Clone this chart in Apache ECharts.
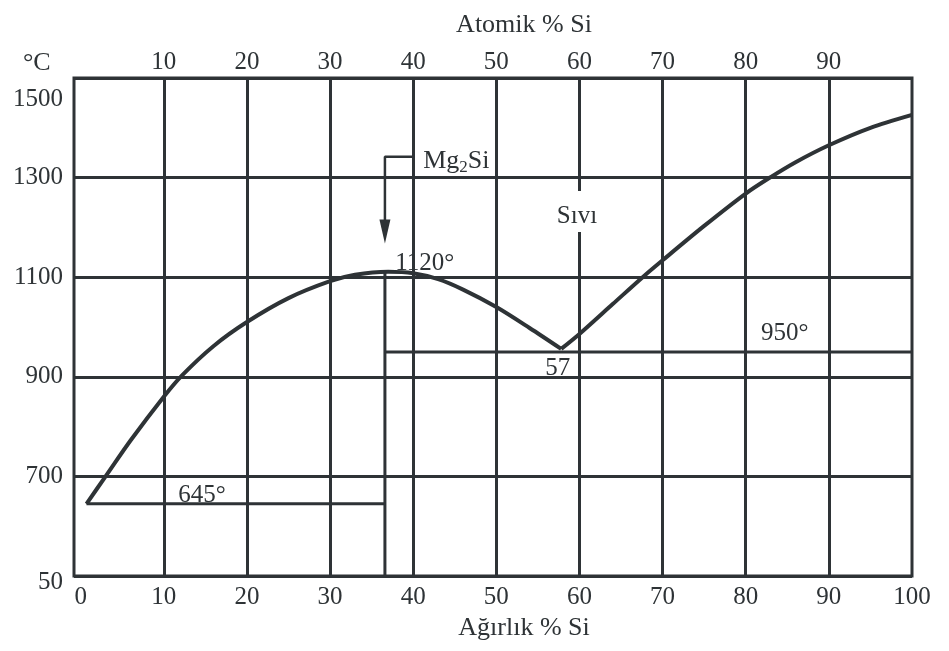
<!DOCTYPE html>
<html>
<head>
<meta charset="utf-8">
<script src="https://cdn.jsdelivr.net/npm/echarts@6/dist/echarts.min.js"></script>
<style>
html, body { margin: 0; padding: 0; background: #fff; }
#diagram { width: 949px; height: 651px; }
</style>
</head>
<body>
<div id="diagram"></div>
<script>
// Mg - Si faz diyagramı
var weightLabels = [0, 10, 20, 30, 40, 50, 60, 70, 80, 90, 100];
var gridSteps = [10, 20, 30, 40, 50, 60, 70, 80, 90];
var atomicLabels = [10, 20, 30, 40, 50, 60, 70, 80, 90];

// likidus, Mg tarafı (0.7 -> ötektik)
var liqMgW = [0.7, 3, 6, 10, 12.2, 16, 20, 25, 30, 33, 37, 40, 43, 46, 50, 54, 57.8];
var liqMgT = [645, 700, 772, 860, 903, 962, 1010, 1058, 1092, 1105, 1111, 1108, 1096, 1075, 1040, 998, 956];
// likidus, Si tarafı
var liqSiW = [57.8, 60, 64, 67.6, 70, 75, 80, 83, 86, 90, 95, 100];
var liqSiT = [956, 986, 1046, 1100, 1134, 1203, 1268, 1301, 1331, 1365, 1400, 1426];

var eutecticMg = [[0.7, 645], [36.6, 645]];
var eutecticSi = [[36.6, 950], [100, 950]];
var mg2siLine = [[36.6, 500], [36.6, 1111]];
var arrowLine = [[40, 1342], [36.6, 1342], [36.6, 1192]];
var arrowHead = [[36.6, 1192]];

var noteText = ['1120°', '645°', '57', '950°', 'Sıvı', '{a|Mg}{s|2}{a|Si}'];
var noteW = [41.4, 14.6, 57.4, 84.7, 59.7, 41.2];
var noteT = [1128, 662, 916, 988, 1232, 1332];
var noteAlign = ['center', 'center', 'center', 'center', 'center', 'left'];

var ink = '#2e3336';
var serif = 'Liberation Serif';

function pairs(xs, ys) {
    return xs.map(function (x, i) { return [x, ys[i]]; });
}

var chart = echarts.init(document.getElementById('diagram'));

var option = {
    backgroundColor: '#fff',
    animation: false,
    textStyle: { fontFamily: serif, color: ink },
    grid: {
        left: 74, right: 37, top: 78, bottom: 75,
        show: true, borderColor: ink, borderWidth: 3
    },
    xAxis: [{
        type: 'value', position: 'bottom',
        min: -0.8, max: 100,
        name: 'Ağırlık % Si', nameLocation: 'middle', nameGap: 36,
        nameTextStyle: { fontFamily: serif, fontSize: 26, color: ink, padding: [0, 0, 0, 62] },
        axisLine: { show: false },
        axisTick: { show: false, customValues: gridSteps },
        axisLabel: { customValues: weightLabels, margin: 9, fontFamily: serif, fontSize: 25, color: ink },
        splitLine: { show: true, lineStyle: { color: ink, width: 3 } }
    }, {
        type: 'value', position: 'top',
        min: -0.8, max: 100,
        name: 'Atomik % Si', nameLocation: 'middle', nameGap: 40,
        nameTextStyle: { fontFamily: serif, fontSize: 26, color: ink, padding: [0, 0, 0, 62] },
        axisLine: { show: false },
        axisTick: { show: false, customValues: atomicLabels },
        axisLabel: { customValues: atomicLabels, margin: 3, fontFamily: serif, fontSize: 25, color: ink },
        splitLine: { show: false }
    }],
    yAxis: {
        type: 'value', min: 500, max: 1500, interval: 200,
        name: '°C', nameLocation: 'end', nameGap: 2,
        nameTextStyle: { fontFamily: serif, fontSize: 26, color: ink, align: 'right', padding: [0, 30, 0, 0] },
        axisLine: { show: false },
        axisTick: { show: false },
        axisLabel: {
            margin: 11, fontFamily: serif, fontSize: 25, color: ink,
            formatter: function (v) {
                if (v === 500) return '{b|50}';
                if (v === 1500) return '{t|1500}';
                return String(v);
            },
            rich: {
                t: { fontFamily: serif, fontSize: 25, color: ink, padding: [42, 0, 0, 0] },
                b: { fontFamily: serif, fontSize: 25, color: ink, padding: [12, 0, 0, 0] }
            }
        },
        splitLine: { show: true, lineStyle: { color: ink, width: 3 } }
    },
    series: [
        { type: 'line', data: pairs(liqMgW, liqMgT), smooth: 0.3, symbol: 'none', lineStyle: { color: ink, width: 4 } },
        { type: 'line', data: pairs(liqSiW, liqSiT), smooth: 0.3, symbol: 'none', lineStyle: { color: ink, width: 4 } },
        { type: 'line', data: eutecticMg, symbol: 'none', lineStyle: { color: ink, width: 3 } },
        { type: 'line', data: eutecticSi, symbol: 'none', lineStyle: { color: ink, width: 3 } },
        { type: 'line', data: mg2siLine, symbol: 'none', lineStyle: { color: ink, width: 3 } },
        { type: 'line', data: arrowLine, symbol: 'none', lineStyle: { color: ink, width: 2.5 } },
        {
            type: 'scatter', data: arrowHead, symbol: 'triangle', symbolRotate: 180,
            symbolSize: [11, 24], itemStyle: { color: ink, opacity: 1 }
        },
        {
            type: 'scatter', symbolSize: 0, itemStyle: { opacity: 1 },
            data: noteText.map(function (t, i) {
                return {
                    value: [noteW[i], noteT[i]],
                    label: {
                        show: true, position: 'inside', formatter: t,
                        align: noteAlign[i], verticalAlign: 'middle',
                        fontFamily: serif, fontSize: 25, color: ink,
                        backgroundColor: i === 4 ? '#fff' : 'transparent',
                        padding: i === 4 ? [13, 2, 3, 2] : 0,
                        rich: {
                            a: { fontFamily: serif, fontSize: 26, color: ink },
                            s: { fontFamily: serif, fontSize: 17, color: ink, verticalAlign: 'bottom', padding: [12, 0, 0, 0] }
                        }
                    }
                };
            })
        }
    ]
};

chart.setOption(option);
window.addEventListener('resize', chart.resize);
</script>
</body>
</html>
